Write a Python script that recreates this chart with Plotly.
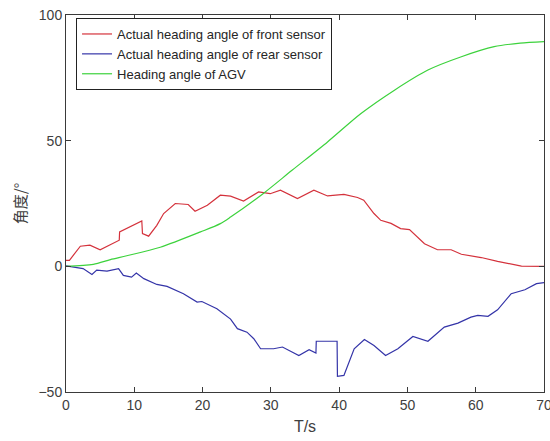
import plotly.graph_objects as go

# Front sensor (red)
front_t = [0, 0.5, 2.1, 3.5, 5.0, 6.5, 7.8, 7.85, 9.5, 11.1, 11.2, 12.1, 13.3, 14.3, 16.0, 17.9,
           18.9, 20.7, 22.6, 24.1, 26.0, 28.2, 29.9, 31.4, 33.9, 36.3, 38.3, 40.7, 42.7, 43.6,
           45.1, 46.1, 47.6, 49.0, 50.3, 52.5, 54.4, 56.4, 57.9, 60.8, 63.2, 66.7, 70]
front_v = [2.4, 2.4, 8.0, 8.4, 6.6, 8.8, 10.4, 13.7, 15.9, 18.1, 13.0, 12.0, 16.3, 21.0, 25.0, 24.6,
           21.9, 24.3, 28.3, 27.9, 26.0, 29.6, 28.9, 30.3, 27.0, 30.3, 28.0, 28.6, 27.4, 26.3,
           21.0, 18.3, 17.1, 15.0, 14.6, 9.0, 6.6, 6.6, 4.8, 3.5, 2.0, 0.1, 0.0]

# Rear sensor (blue)
rear_t = [0, 2.5, 3.8, 4.5, 6.0, 7.7, 8.4, 9.6, 10.3, 11.4, 13.3, 14.8, 17.2, 19.2, 19.9, 22.1,
          24.1, 25.1, 26.5, 27.5, 28.5, 30.4, 31.7, 34.1, 35.6, 36.6, 36.65, 39.7, 39.75, 40.7,
          42.2, 43.7, 45.1, 46.8, 48.6, 50.8, 53.0, 55.4, 57.4, 59.3, 60.3, 61.8, 63.2, 65.2,
          67.2, 68.9, 70]
rear_v = [0.2, -0.9, -3.2, -1.5, -1.9, -0.9, -3.6, -4.3, -2.7, -4.9, -7.2, -8.0, -10.9, -14.2, -14.0,
          -16.9, -21.0, -24.8, -26.2, -28.8, -32.8, -32.8, -32.1, -35.5, -33.2, -34.5, -29.8,
          -29.8, -43.8, -43.4, -32.8, -29.1, -31.5, -35.5, -32.8, -27.9, -29.8, -24.2, -22.6,
          -20.2, -19.5, -19.9, -17.3, -10.9, -9.3, -6.9, -6.5]

# AGV heading (green)
agv_t = [0, 4.0, 6.5, 8.9, 13.8, 19.7, 22.6, 24.1, 29.0, 33.1, 38.3, 43.2, 48.1, 53.0, 57.9,
         62.7, 66.5, 70]
agv_v = [0, 0.8, 2.7, 4.2, 7.6, 13.7, 17.0, 19.6, 29.2, 38.2, 49.5, 60.8, 70.1, 78.1, 83.4,
         87.4, 88.8, 89.4]

x_ticks = [0, 10, 20, 30, 40, 50, 60, 70]
y_ticks = [-50, 0, 50, 100]

names = ["Actual heading angle of front sensor",
         "Actual heading angle of rear sensor",
         "Heading angle of AGV"]

fig = go.Figure()
fig.add_trace(go.Scatter(x=front_t, y=front_v, mode="lines", name=names[0],
                         line=dict(color="#d4323c", width=1.2)))
fig.add_trace(go.Scatter(x=rear_t, y=rear_v, mode="lines", name=names[1],
                         line=dict(color="#3434a8", width=1.2)))
fig.add_trace(go.Scatter(x=agv_t, y=agv_v, mode="lines", name=names[2],
                         line=dict(color="#3cd23c", width=1.2, shape="spline", smoothing=0.8)))

axis_common = dict(showline=True, linecolor="#3a3a3a", linewidth=1, mirror="allticks",
                   ticks="inside", ticklen=5, tickcolor="#3a3a3a", showgrid=False,
                   zeroline=False, ticklabeloverflow="allow",
                   tickfont=dict(family="Liberation Sans, Arial", size=14, color="#404040"))

fig.update_layout(
    width=550, height=441,
    margin=dict(l=66, r=6, t=15, b=49),
    paper_bgcolor="white", plot_bgcolor="white",
    xaxis=dict(range=[0, 70], tickvals=x_ticks, automargin=False,
               title=dict(text="T/s", font=dict(family="Liberation Sans, Arial", size=16, color="#404040"),
                          standoff=9),
               **axis_common),
    yaxis=dict(range=[-50, 100], tickvals=y_ticks, automargin=False,
               title=dict(text="角度/°", font=dict(family="Noto Sans CJK SC", size=15, color="#404040"),
                          standoff=8),
               **axis_common),
    legend=dict(x=0.021, y=0.992, xanchor="left", yanchor="top",
                bgcolor="white", bordercolor="#222222", borderwidth=1,
                font=dict(family="Liberation Sans, Arial", size=13, color="#262626"),
                tracegroupgap=0, itemwidth=30),
    showlegend=True,
)

fig.write_html("out.html")
